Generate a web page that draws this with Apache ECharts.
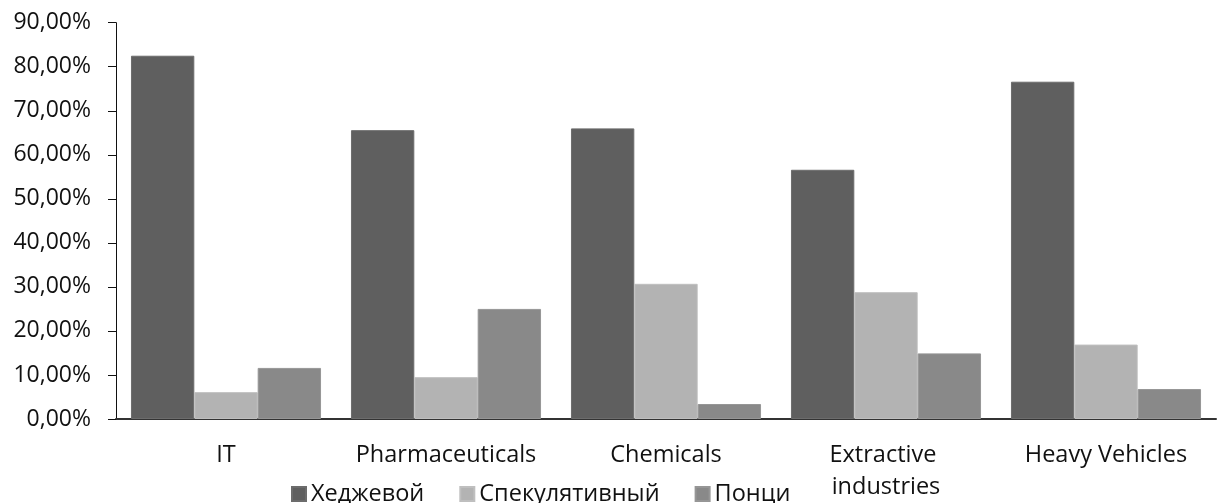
<!DOCTYPE html>
<html>
<head>
<meta charset="utf-8">
<script src="https://cdn.jsdelivr.net/npm/echarts@6/dist/echarts.min.js"></script>
<style>
  html, body { margin: 0; padding: 0; background: #fff; }
  #chart { width: 1220px; height: 503px; }
</style>
</head>
<body>
<div id="chart"></div>
<script>
// Sectors on the category axis
const categories = ['IT', 'Pharmaceuticals', 'Chemicals', 'Extractive industries', 'Heavy Vehicles'];

// Share of companies by financing profile, percent
const hedge = [82.5, 65.6, 66.0, 56.6, 76.6];
const speculative = [6.1, 9.5, 30.7, 28.8, 16.9];
const ponzi = [11.6, 25.0, 3.4, 14.9, 6.8];

const seriesNames = ['Хеджевой', 'Спекулятивный', 'Понци'];
const seriesColors = ['#5f5f5f', '#b3b3b3', '#898989'];
const seriesEdges = ['#6c6c6c', '#bfbfbf', '#969696'];

const FONT = '"Open Sans", "Noto Sans", sans-serif';

const chart = echarts.init(document.getElementById('chart'), null, { renderer: 'canvas' });

const makeBar = (i, data) => ({
  name: seriesNames[i],
  type: 'bar',
  data: data,
  barGap: '0%',
  barCategoryGap: '13.6%',
  itemStyle: { color: seriesColors[i], borderColor: seriesEdges[i], borderWidth: 1 },
  emphasis: { disabled: true }
});

chart.setOption({
  animation: false,
  backgroundColor: '#ffffff',
  textStyle: { fontFamily: FONT },
  grid: { left: 116, right: 4, top: 22.7, bottom: 81, containLabel: false },
  legend: {
    left: 286,
    top: 477,
    icon: 'rect',
    itemWidth: 14,
    itemHeight: 14,
    itemGap: 35,
    textStyle: { fontFamily: FONT, fontSize: 23.5, color: '#111' },
    data: seriesNames
  },
  xAxis: {
    type: 'category',
    data: categories,
    axisLine: { show: true, lineStyle: { color: '#333', width: 2 } },
    axisTick: { show: false },
    axisLabel: {
      interval: 0,
      margin: 20,
      fontFamily: FONT,
      fontSize: 23.5,
      lineHeight: 32,
      color: '#111',
      width: 205,
      overflow: 'break'
    }
  },
  yAxis: {
    type: 'value',
    min: 0,
    max: 90,
    interval: 10,
    splitLine: { show: false },
    axisLine: { show: true, lineStyle: { color: '#111', width: 1 } },
    axisTick: { show: true, inside: false, length: 8, lineStyle: { color: '#111', width: 1 } },
    axisLabel: {
      margin: 25,
      fontFamily: FONT,
      fontSize: 23,
      color: '#111',
      formatter: v => v.toFixed(2).replace('.', ',') + '%'
    }
  },
  series: [
    makeBar(0, hedge),
    makeBar(1, speculative),
    makeBar(2, ponzi)
  ]
});
</script>
</body>
</html>
